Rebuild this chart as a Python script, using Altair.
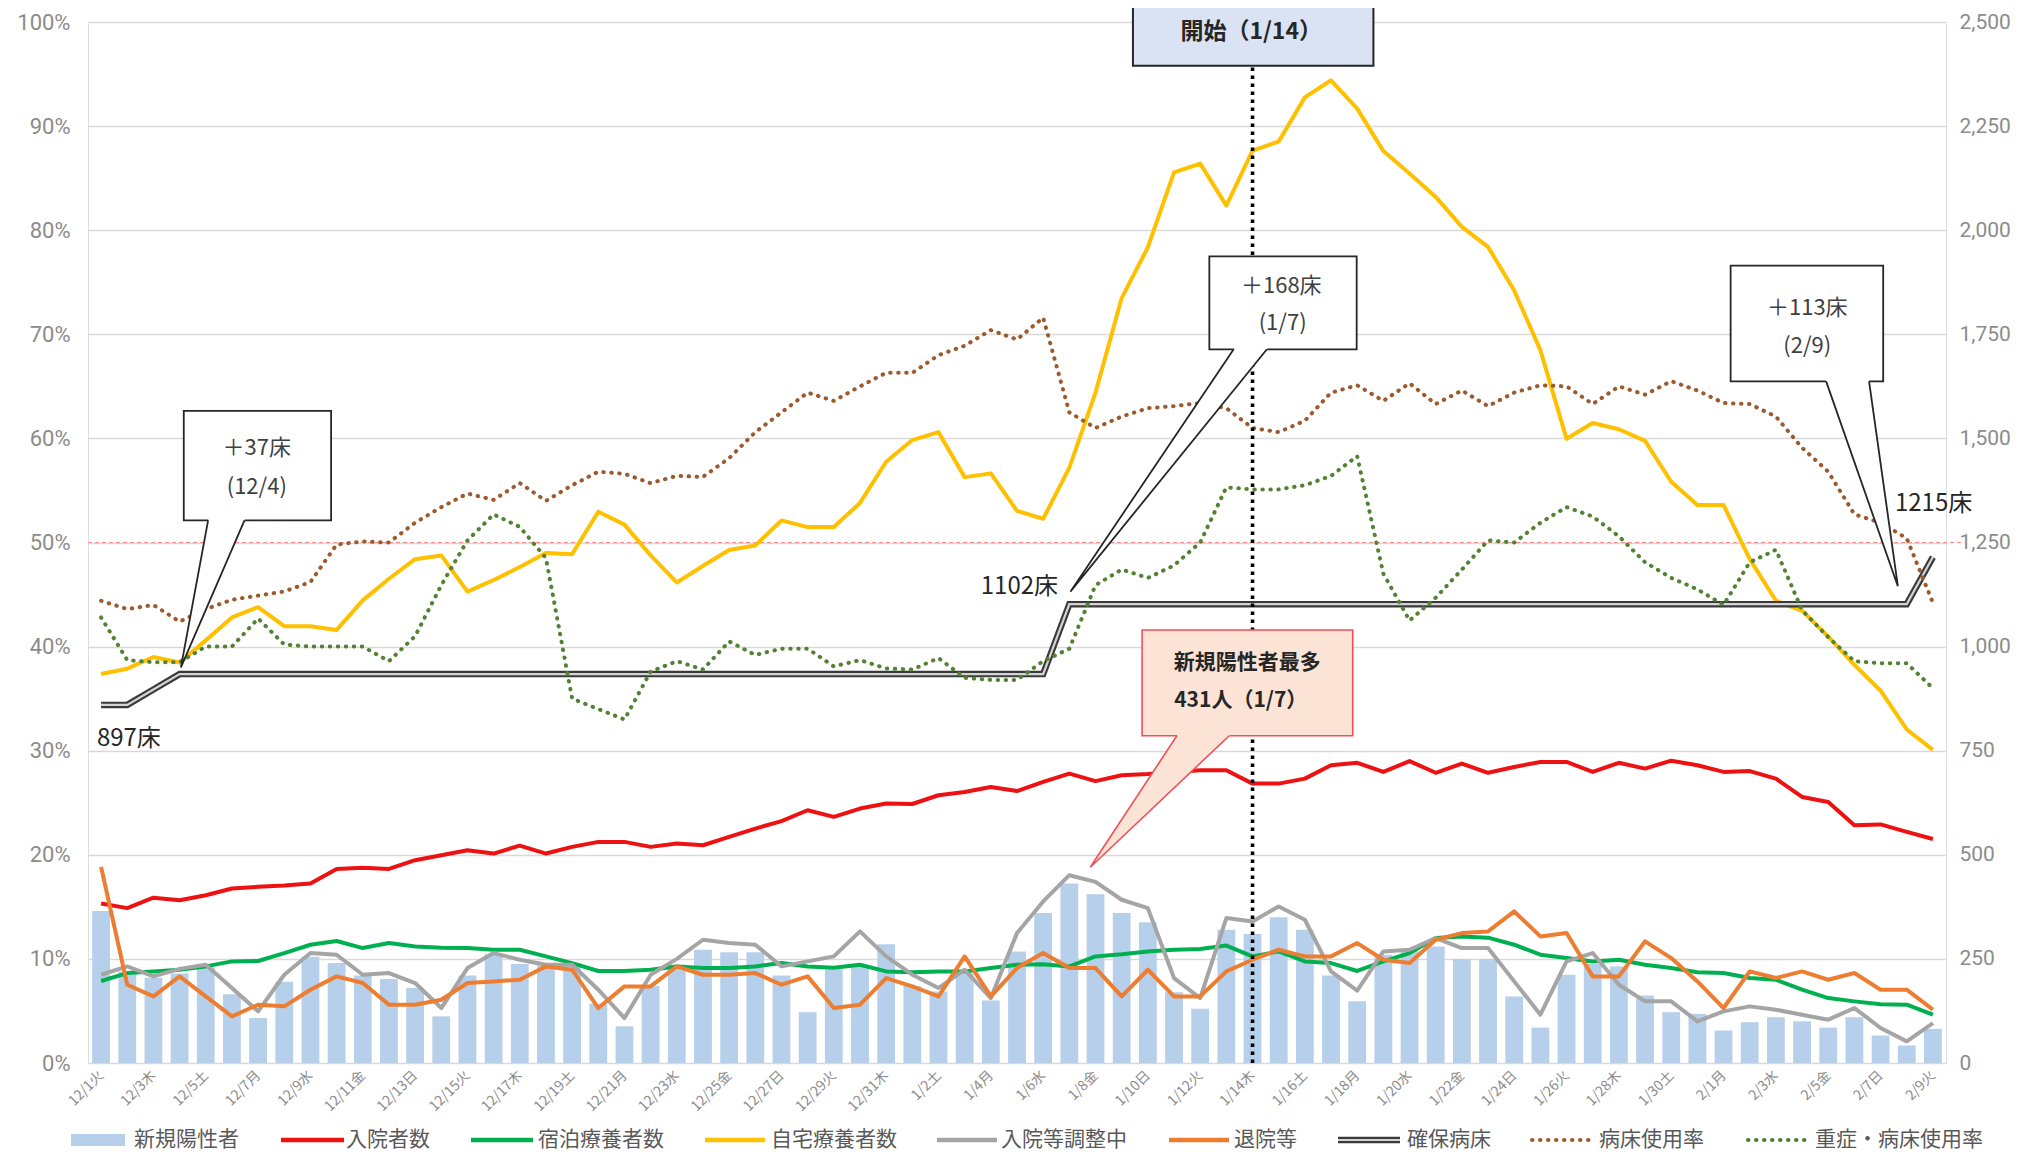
import altair as alt
import pandas as pd

FONT = "Noto Sans CJK JP"
NUMFONT = "Roboto"

# ---------------- data ----------------
tick_labels = ['12/1火', '12/3木', '12/5土', '12/7月', '12/9水', '12/11金', '12/13日', '12/15火',
               '12/17木', '12/19土', '12/21月', '12/23水', '12/25金', '12/27日', '12/29火', '12/31木',
               '1/2土', '1/4月', '1/6水', '1/8金', '1/10日', '1/12火', '1/14木', '1/16土', '1/18月',
               '1/20水', '1/22金', '1/24日', '1/26火', '1/28木', '1/30土', '2/1月', '2/3水', '2/5金',
               '2/7日', '2/9火']

new_cases = [365, 220, 205, 215, 230, 165, 108, 195, 255, 240,
             210, 202, 180, 112, 210, 262, 238, 238, 240, 142,
             88, 185, 236, 272, 266, 266, 210, 122, 225, 235,
             285, 185, 172, 215, 150, 268, 360, 431, 405, 360,
             338, 170, 130, 320, 310, 350, 320, 210, 148, 260,
             270, 280, 250, 250, 160, 85, 212, 238, 232, 162,
             122, 118, 78, 98, 110, 100, 85, 110, 66, 42,
             82]
hospitalized = [383, 372, 397, 391, 403, 419, 423, 426, 431, 466,
                469, 466, 487, 499, 511, 503, 522, 503, 519, 531,
                531, 519, 527, 523, 543, 563, 581, 607, 591, 611,
                623, 622, 643, 651, 663, 653, 675, 695, 677, 691,
                694, 699, 703, 703, 671, 671, 683, 715, 721, 699,
                725, 697, 719, 697, 711, 723, 723, 699, 721, 707,
                726, 715, 699, 701, 683, 639, 627, 571, 573, 555,
                538]
hotel = [197, 216, 220, 224, 232, 244, 245, 264, 284, 293,
         276, 288, 280, 277, 276, 272, 272, 256, 240, 221,
         221, 224, 232, 228, 228, 232, 240, 232, 229, 236,
         220, 218, 220, 220, 228, 236, 237, 232, 256, 261,
         268, 272, 274, 282, 256, 268, 244, 240, 221, 244,
         264, 300, 304, 301, 284, 260, 252, 244, 248, 236,
         228, 218, 216, 204, 200, 176, 156, 148, 141, 140,
         116]
home = [934, 947, 975, 962, 1015, 1070, 1095, 1049, 1049, 1040,
        1111, 1163, 1210, 1219, 1132, 1160, 1191, 1225, 1222, 1324,
        1293, 1219, 1154, 1194, 1232, 1243, 1303, 1287, 1287, 1345,
        1444, 1496, 1515, 1407, 1416, 1326, 1307, 1430, 1610, 1837,
        1959, 2139, 2160, 2059, 2191, 2213, 2319, 2360, 2292, 2190,
        2136, 2080, 2008, 1960, 1855, 1712, 1499, 1537, 1522, 1494,
        1396, 1340, 1340, 1210, 1110, 1086, 1024, 956, 894, 801,
        752]
adjusting = [212, 232, 208, 226, 236, 180, 124, 212, 264, 260,
             212, 216, 192, 132, 228, 264, 248, 236, 236, 176,
             108, 212, 250, 296, 288, 284, 232, 244, 256, 316,
             256, 212, 180, 224, 156, 312, 388, 451, 435, 392,
             372, 204, 156, 348, 340, 376, 344, 220, 174, 268,
             272, 300, 276, 276, 196, 116, 244, 264, 188, 148,
             148, 100, 124, 136, 128, 116, 104, 132, 84, 52,
             96]
discharged = [471, 188, 160, 208, 160, 112, 140, 136, 176, 208,
              192, 140, 140, 152, 192, 196, 200, 232, 224, 132,
              184, 184, 232, 212, 212, 216, 188, 208, 132, 140,
              204, 184, 160, 256, 160, 228, 264, 228, 228, 160,
              224, 160, 160, 220, 248, 272, 256, 256, 288, 248,
              240, 296, 312, 316, 364, 304, 312, 208, 208, 292,
              252, 196, 132, 220, 204, 220, 200, 216, 176, 176,
              128]
beds = [860, 860, 897, 934, 934, 934, 934, 934, 934, 934,
        934, 934, 934, 934, 934, 934, 934, 934, 934, 934,
        934, 934, 934, 934, 934, 934, 934, 934, 934, 934,
        934, 934, 934, 934, 934, 934, 934, 1102, 1102, 1102,
        1102, 1102, 1102, 1102, 1102, 1102, 1102, 1102, 1102, 1102,
        1102, 1102, 1102, 1102, 1102, 1102, 1102, 1102, 1102, 1102,
        1102, 1102, 1102, 1102, 1102, 1102, 1102, 1102, 1102, 1102,
        1215]
bed_rate = [44.4, 43.6, 44.0, 42.4, 43.6, 44.5, 44.9, 45.3, 46.2, 49.8,
            50.1, 50.0, 51.9, 53.4, 54.7, 54.1, 55.7, 54.0, 55.5, 56.8,
            56.6, 55.7, 56.4, 56.3, 58.1, 60.6, 62.5, 64.4, 63.6, 65.0,
            66.3, 66.3, 68.0, 68.9, 70.4, 69.5, 71.6, 62.5, 61.0, 62.1,
            62.9, 63.1, 63.4, 62.9, 61.0, 60.6, 61.7, 64.4, 65.1, 63.6,
            65.3, 63.3, 64.6, 63.1, 64.4, 65.1, 65.0, 63.3, 65.0, 64.2,
            65.5, 64.6, 63.4, 63.3, 62.1, 59.1, 56.8, 52.7, 51.9, 50.4,
            44.2]
severe_rate = [42.8, 38.7, 38.5, 38.5, 40.0, 40.0, 42.7, 40.2, 40.0, 40.0,
               40.0, 38.6, 41.0, 45.9, 50.2, 52.7, 51.5, 48.5, 35.0, 34.0,
               33.0, 37.6, 38.6, 37.8, 40.5, 39.2, 39.8, 39.8, 38.1, 38.7,
               37.9, 37.8, 38.9, 37.0, 36.8, 36.8, 38.6, 39.8, 45.9, 47.4,
               46.6, 47.8, 50.0, 55.3, 55.1, 55.1, 55.5, 56.4, 58.3, 47.0,
               42.5, 44.7, 47.4, 50.2, 50.0, 51.9, 53.4, 52.5, 50.6, 48.1,
               46.6, 45.5, 44.0, 48.1, 49.3, 43.5, 40.9, 38.6, 38.4, 38.4,
               36.0]

N = len(new_cases)
df = pd.DataFrame({
    'idx': list(range(N)),
    'new': new_cases, 'hosp': hospitalized, 'hotel': hotel, 'home': home,
    'adjust': adjusting, 'disc': discharged, 'beds': beds,
    'bed_rate': bed_rate, 'severe_rate': severe_rate,
})

# ---------------- scales / axes ----------------
xs = alt.Scale(domain=[-0.5, 70.5], nice=False, zero=False)
ys = alt.Scale(domain=[0, 2500], nice=False, zero=False)
GRIDVALS = list(range(0, 2501, 250))

label_expr = "[" + ",".join("'%s'" % t for t in tick_labels) + "][datum.value/2]"
x_axis = alt.Axis(values=list(range(0, N, 2)), labelExpr=label_expr, labelAngle=315,
                  labelAlign='right', labelBaseline='middle',
                  labelFontSize=14, labelColor='#8c8c8c', labelFont=FONT,
                  domain=False, ticks=False, grid=False, title=None, labelPadding=10,
                  labelOverlap=False, labelFlush=False, labelBound=False)
yr_axis = alt.Axis(orient='right', values=GRIDVALS, labelExpr="format(datum.value, ',')",
                   labelFontSize=21, labelColor='#8c8c8c', labelFont=NUMFONT, domain=False,
                   ticks=False, grid=True, gridColor='#d9d9d9', gridWidth=1.3, title=None,
                   labelPadding=13)
yl_axis = alt.Axis(orient='left', values=GRIDVALS, labelExpr="(datum.value/25) + '%'",
                   labelFontSize=22, labelColor='#8c8c8c', labelFont=NUMFONT, domain=False,
                   ticks=False, grid=False, title=None, labelPadding=18)


def X(f, axis=None):
    return alt.X(f, type='quantitative', scale=xs, axis=axis)


def Y(f, axis=None):
    return alt.Y(f, type='quantitative', scale=ys, axis=axis)


base = alt.Chart(df)
layers = []

# bars
layers.append(
    base.transform_calculate(x0='datum.idx - 0.34', x1='datum.idx + 0.34')
    .mark_bar(color='#b6cfea')
    .encode(x=X('x0', x_axis), x2='x1:Q', y=Y('new', yr_axis), y2=alt.datum(0))
)

# 50% dashed line
ref50 = pd.DataFrame({'x': [-0.5], 'x2': [71.2], 'y': [1250]})
layers.append(alt.Chart(ref50).mark_rule(color='#ff8a8a', strokeWidth=1.2, strokeDash=[4, 3])
              .encode(x=X('x'), x2='x2:Q', y=Y('y')))


def solid(field, color, width=4.0):
    return base.mark_line(color=color, strokeWidth=width, strokeJoin='round').encode(
        x=X('idx'), y=Y(field))


layers += [
    solid('hosp', '#ee1111'),
    solid('hotel', '#00b050'),
    solid('home', '#ffc000'),
    solid('adjust', '#a5a5a5'),
    solid('disc', '#ed7d31'),
]

# capacity double line
layers.append(base.mark_line(color='#3a3a3a', strokeWidth=6.5).encode(x=X('idx'), y=Y('beds')))
layers.append(base.mark_line(color='#d4d4d4', strokeWidth=2.2).encode(x=X('idx'), y=Y('beds')))

# dotted percentage lines (left axis)
layers.append(
    base.transform_calculate(v='datum.bed_rate * 25')
    .mark_line(color='#9c5b2e', strokeWidth=4, strokeDash=[0.5, 7.5], strokeCap='round')
    .encode(x=X('idx'), y=Y('v', yl_axis))
)
layers.append(
    base.transform_calculate(v='datum.severe_rate * 25')
    .mark_line(color='#548235', strokeWidth=4, strokeDash=[0.5, 7.5], strokeCap='round')
    .encode(x=X('idx'), y=Y('v'))
)

# vertical dotted line at 1/14
vline = pd.DataFrame({'x': [44], 'y': [0], 'y2': [2395]})
layers.append(alt.Chart(vline).mark_rule(color='#000000', strokeWidth=3.6, strokeDash=[3.5, 4.5])
              .encode(x=X('x'), y=Y('y'), y2='y2:Q'))


# ---------------- callouts ----------------
def tri_area(p0, p1, p2):
    pts = sorted([p0, p1, p2], key=lambda p: p[0])
    (xa, ya), (xb, yb), (xc, yc) = pts
    t = (xb - xa) / (xc - xa)
    yac = ya + t * (yc - ya)
    return pd.DataFrame({'x': [xa, xb, xc], 'y': [ya, yb, yc], 'y2': [ya, yac, yc]})


def callout(box, fill, stroke, sw, texts, base_pts=None, tip=None):
    x1, x2, yb, yt = box
    out = []
    rect_df = pd.DataFrame({'x': [x1], 'x2': [x2], 'y': [yb], 'y2': [yt]})
    out.append(alt.Chart(rect_df).mark_rect(fill=fill, stroke=stroke, strokeWidth=sw)
               .encode(x=X('x'), x2='x2:Q', y=Y('y'), y2='y2:Q'))
    if tip is not None:
        ax, bx = base_pts
        tx, ty = tip
        k = 0.05
        A = (ax + (ax - tx) * k, yb + (yb - ty) * k)
        B = (bx + (bx - tx) * k, yb + (yb - ty) * k)
        tri = tri_area(A, B, (tx, ty))
        out.append(alt.Chart(tri).mark_area(fill=fill, opacity=1, interpolate='linear')
                   .encode(x=X('x'), y=Y('y'), y2='y2:Q'))
        edge = pd.DataFrame({'x': [ax, tx, bx], 'y': [yb, ty, yb], 'o': [0, 1, 2]})
        out.append(alt.Chart(edge).mark_line(color=stroke, strokeWidth=sw)
                   .encode(x=X('x'), y=Y('y'), order='o:Q'))
    for (txt, tx_, ty_, size, weight, col) in texts:
        tdf = pd.DataFrame({'x': [tx_], 'y': [ty_], 't': [txt]})
        out.append(alt.Chart(tdf).mark_text(font=FONT, fontSize=size, fontWeight=weight,
                                            color=col, align='center', baseline='middle')
                   .encode(x=X('x'), y=Y('y'), text='t:N'))
    return out


layers += callout((3.16, 8.79, 1303, 1566), '#ffffff', '#262626', 1.8,
                  [('＋37床', 5.95, 1478, 22, 'normal', '#404040'),
                   ('(12/4)', 5.95, 1383, 22, 'normal', '#404040')],
                  base_pts=(4.09, 5.48), tip=(3.05, 950))
layers += callout((42.35, 47.98, 1714, 1937), '#ffffff', '#262626', 1.8,
                  [('＋168床', 45.1, 1866, 22, 'normal', '#404040'),
                   ('(1/7)', 45.15, 1776, 22, 'normal', '#404040')],
                  base_pts=(43.28, 44.55), tip=(37.04, 1132))
layers += callout((62.27, 68.1, 1637, 1915), '#ffffff', '#262626', 1.8,
                  [('＋113床', 65.2, 1813, 22, 'normal', '#404040'),
                   ('(2/9)', 65.2, 1723, 22, 'normal', '#404040')],
                  base_pts=(65.92, 67.56), tip=(68.66, 1145))
layers += callout((39.78, 47.83, 786, 1040), '#fbe3d6', '#f0505a', 1.6,
                  [('新規陽性者最多', 43.8, 960, 21, 'bold', '#262626'),
                   ('431人（1/7）', 43.55, 870, 21, 'bold', '#262626')],
                  base_pts=(41.11, 43.11), tip=(37.8, 470))
layers += callout((39.43, 48.62, 2395, 2800), '#dae3f3', '#262626', 2.0,
                  [('開始（1/14）', 43.95, 2475, 23, 'bold', '#262626')])

# bed count labels
bed_labels = pd.DataFrame({'x': [-0.16, 36.57, 68.55], 'y': [777, 1142, 1343],
                           't': ['897床', '1102床', '1215床'], 'a': ['left', 'right', 'left']})
for a in ['left', 'right']:
    layers.append(alt.Chart(bed_labels[bed_labels.a == a])
                  .mark_text(font=FONT, fontSize=24, color='#262626', align=a, baseline='middle')
                  .encode(x=X('x'), y=Y('y'), text='t:N'))

# ---------------- custom legend (pixel layout) ----------------
legend_names = ['新規陽性者', '入院者数', '宿泊療養者数', '自宅療養者数', '入院等調整中',
                '退院等', '確保病床', '病床使用率', '重症・病床使用率']
legend_kind = ['bar', 'line', 'line', 'line', 'line', 'line', 'double', 'dot', 'dot']
legend_color = ['#b6cfea', '#ee1111', '#00b050', '#ffc000', '#a5a5a5', '#ed7d31', '#3a3a3a',
                '#9c5b2e', '#548235']
legend_sx0 = [-17, 193, 383, 617, 849, 1081, 1250, 1444, 1660]
legend_sx1 = [37, 256, 445, 677, 909, 1141, 1312, 1506, 1723]
legend_tx = [46, 258, 450, 683, 913, 1146, 1319, 1511, 1727]
LY = 1118
leg = pd.DataFrame({'name': legend_names, 'kind': legend_kind, 'col': legend_color,
                    'sx0': legend_sx0, 'sx1': legend_sx1, 'tx': legend_tx})
LX0 = alt.X('sx0:Q', scale=None, axis=None)
layers.append(alt.Chart(leg[leg.kind == 'bar']).mark_rect()
              .encode(x=LX0, x2='sx1:Q', y=alt.value(LY - 6), y2=alt.value(LY + 6),
                      color=alt.Color('col:N', scale=None)))
layers.append(alt.Chart(leg[leg.kind == 'line']).mark_rule(strokeWidth=4.5)
              .encode(x=LX0, x2='sx1:Q', y=alt.value(LY), color=alt.Color('col:N', scale=None)))
layers.append(alt.Chart(leg[leg.kind == 'double']).mark_rule(strokeWidth=6.5, color='#3a3a3a')
              .encode(x=LX0, x2='sx1:Q', y=alt.value(LY)))
layers.append(alt.Chart(leg[leg.kind == 'double']).mark_rule(strokeWidth=2.2, color='#d4d4d4')
              .encode(x=LX0, x2='sx1:Q', y=alt.value(LY)))
layers.append(alt.Chart(leg[leg.kind == 'dot'])
              .mark_rule(strokeWidth=4, strokeDash=[0.5, 7.5], strokeCap='round')
              .encode(x=LX0, x2='sx1:Q', y=alt.value(LY), color=alt.Color('col:N', scale=None)))
layers.append(alt.Chart(leg).mark_text(font=FONT, fontSize=21, color='#595959', align='left',
                                       baseline='middle')
              .encode(x=alt.X('tx:Q', scale=None, axis=None), y=alt.value(LY), text='name:N'))

# chart frame left border
frame = pd.DataFrame({'a': [0]})
layers.append(alt.Chart(frame).mark_rule(color='#d0d0d0', strokeWidth=1.5)
              .encode(x=alt.value(-84), y=alt.value(-22), y2=alt.value(1141)))

chart = (
    alt.layer(*layers)
    .resolve_axis(x='independent', y='independent')
    .properties(width=1858, height=1041,
                padding={'left': 80, 'top': 14, 'right': 74, 'bottom': 92},
                autosize=alt.AutoSizeParams(type='none'))
    .configure_view(stroke=None)
    .configure(background='white')
)

chart.save("out.html", embed_options={"renderer": "svg", "actions": False})
